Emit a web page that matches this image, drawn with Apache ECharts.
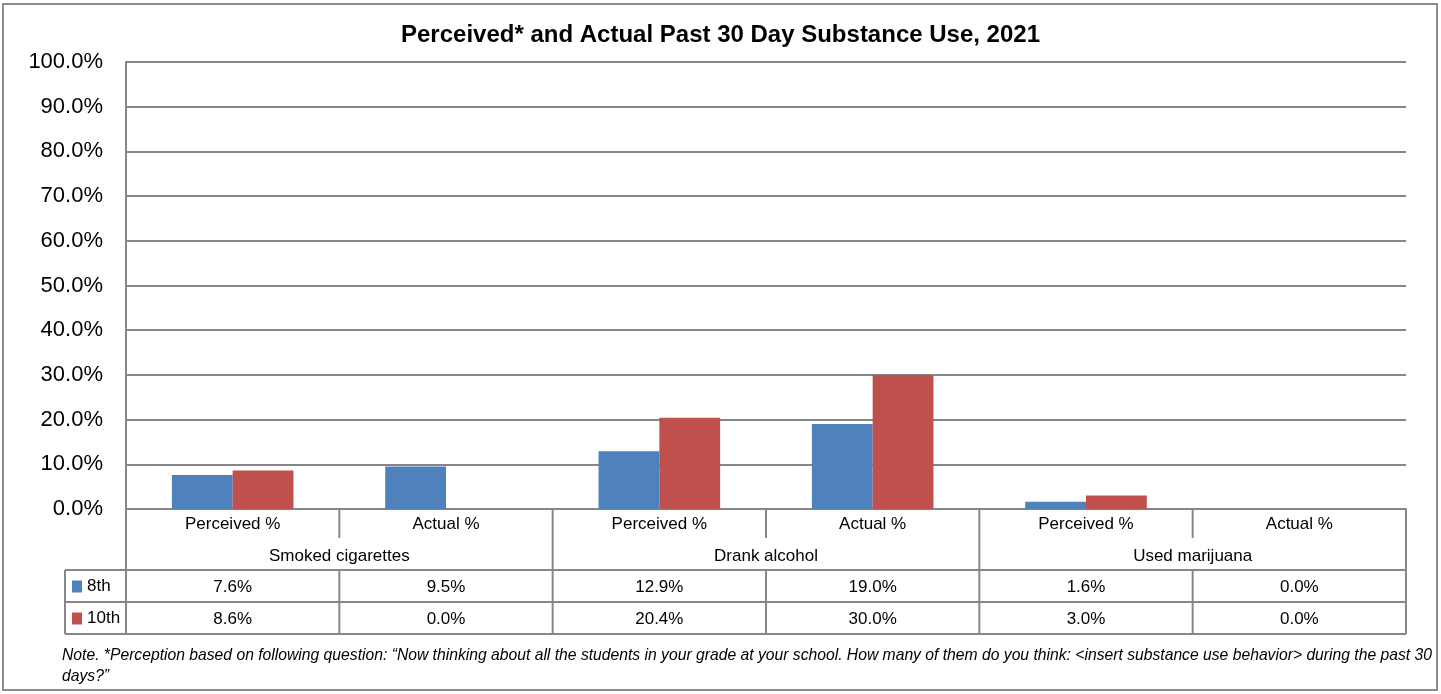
<!DOCTYPE html>
<html><head><meta charset="utf-8">
<script src="https://cdn.jsdelivr.net/npm/echarts@6/dist/echarts.min.js"></script>
<style>html,body{margin:0;padding:0;background:#fff}#c{width:1441px;height:694px}</style>
</head><body><div id="c"></div>
<script>
const categories = ['Perceived %','Actual %','Perceived %','Actual %','Perceived %','Actual %'];
const groups = ['Smoked cigarettes','Drank alcohol','Used marijuana'];
const seriesNames = ['8th','10th'];
const eighth = [7.6, 9.5, 12.9, 19.0, 1.6, 0.0];
const tenth = [8.6, 0.0, 20.4, 30.0, 3.0, 0.0];
const yMax = 100, yStep = 10;

const FONT = '"Liberation Sans Narrow", "Arial Narrow", "Liberation Sans", Arial, sans-serif';
const LINE = '#868686';
const fmt = v => v.toFixed(1) + '%';

const chart = echarts.init(document.getElementById('c'));
const L = 126, R = 1406, T = 62, B = 509;
const catW = (R - L) / categories.length;
const gx = i => L + catW * i;

const lines = [];
function hl(y, x1, x2){ lines.push({type:'line', shape:{x1:x1,y1:y,x2:x2,y2:y}, style:{stroke:LINE, lineWidth:2}, silent:true}); }
function vl(x, y1, y2){ lines.push({type:'line', shape:{x1:x,y1:y1,x2:x,y2:y2}, style:{stroke:LINE, lineWidth:2}, silent:true}); }
hl(570, 65, R); hl(602, 65, R); hl(634, 65, R);
vl(65, 570, 634);
for (let i = 0; i <= categories.length; i++) {
  if (i % 2 === 0) vl(gx(i), B, 634);
  else { vl(gx(i), B, 538); vl(gx(i), 570, 634); }
}

chart.setOption({
  animation: false,
  textStyle: { fontFamily: FONT },
  title: {
    text: 'Perceived* and Actual Past 30 Day Substance Use, 2021',
    left: 'center', top: 18,
    textStyle: { fontFamily: FONT, fontSize: 24, fontWeight: 'bold', color: '#000' }
  },
  legend: {
    data: seriesNames, orient: 'vertical', left: 67, top: 573,
    itemWidth: 10, itemHeight: 12, itemGap: 15, icon: 'rect',
    textStyle: { fontFamily: FONT, fontSize: 17, color: '#000' },
    selectedMode: false
  },
  grid: { left: L, right: 1441 - R, top: T, bottom: 694 - B, containLabel: false },
  xAxis: [
    { type: 'category', data: categories, position: 'bottom',
      axisLine: { lineStyle: { color: LINE, width: 2 } },
      axisTick: { show: false },
      axisLabel: { fontFamily: FONT, fontSize: 17, color: '#000', margin: 7, interval: 0 } },
    { type: 'category', data: groups, position: 'bottom', offset: 33,
      axisLine: { show: false }, axisTick: { show: false },
      axisLabel: { fontFamily: FONT, fontSize: 17, color: '#000', margin: 6, interval: 0 } },
    { type: 'category', data: eighth.map(fmt), position: 'bottom', offset: 64,
      axisLine: { show: false }, axisTick: { show: false },
      axisLabel: { fontFamily: FONT, fontSize: 17, color: '#000', margin: 6, interval: 0 } },
    { type: 'category', data: tenth.map(fmt), position: 'bottom', offset: 96,
      axisLine: { show: false }, axisTick: { show: false },
      axisLabel: { fontFamily: FONT, fontSize: 17, color: '#000', margin: 6, interval: 0 } }
  ],
  yAxis: {
    type: 'value', min: 0, max: yMax, interval: yStep,
    axisLine: { show: true, lineStyle: { color: LINE, width: 2 } },
    axisTick: { show: false },
    splitLine: { lineStyle: { color: LINE, width: 2 } },
    axisLabel: { fontFamily: FONT, fontSize: 22, color: '#000', margin: 23, formatter: v => v.toFixed(1) + '%' }
  },
  series: [
    { name: seriesNames[0], type: 'bar', data: eighth, xAxisIndex: 0, barGap: '0%', barCategoryGap: '43%',
      itemStyle: { color: '#4F81BD' } },
    { name: seriesNames[1], type: 'bar', data: tenth, xAxisIndex: 0, barGap: '0%', barCategoryGap: '43%',
      itemStyle: { color: '#C0504D' } }
  ],
  graphic: [
    { type: 'rect', shape: { x: 3, y: 4, width: 1434, height: 686 }, style: { fill: 'none', stroke: '#8c8c8c', lineWidth: 2 }, silent: true, z: -1 },
    ...lines,
    { type: 'text', left: 62, top: 645, silent: true,
      style: { text: 'Note. *Perception based on following question: \u201cNow thinking about all the students in your grade at your school. How many of them do you think: <insert substance use behavior> during the past 30\ndays?\u201d',
        font: 'italic 15.7px ' + FONT, fill: '#000', lineHeight: 21 } }
  ]
});
</script></body></html>
